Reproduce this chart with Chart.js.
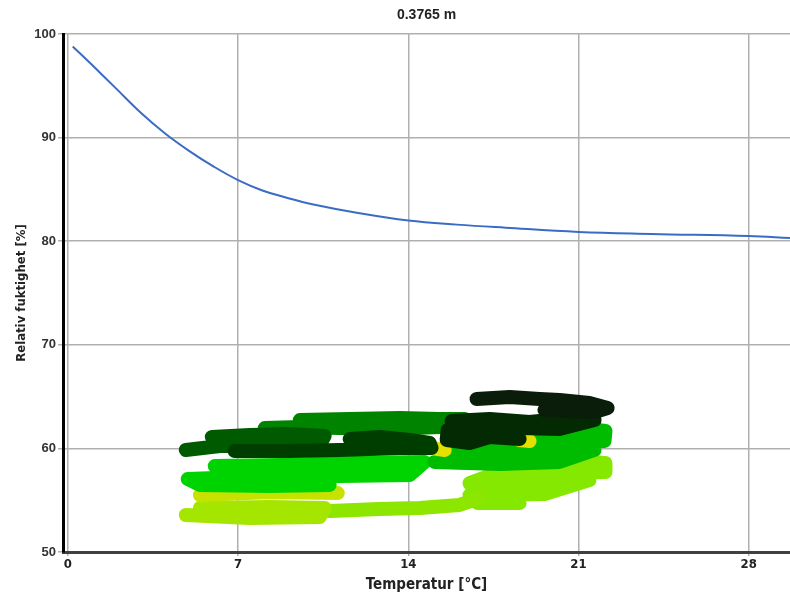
<!DOCTYPE html>
<html>
<head>
<meta charset="utf-8">
<script src="https://cdn.jsdelivr.net/npm/chart.js@4.4.1/dist/chart.umd.min.js"></script>
<style>
	html, body { margin: 0; padding: 0; background: #fff; }
	#wrap { width: 790px; height: 594px; }
</style>
</head>
<body>
<div id="wrap"><canvas id="chart"></canvas></div>
<script>
// curve
const curveTemp = [0.2, 1, 2, 3, 4, 5, 6, 7, 8, 9, 10, 12, 14, 16, 18, 21, 24, 28, 29.7];
const curveRh = [98.8, 97.0, 94.7, 92.4, 90.4, 88.7, 87.2, 85.9, 84.9, 84.2, 83.6, 82.7, 82.0, 81.6, 81.3, 80.9, 80.7, 80.5, 80.3];

// measured trails, [temp, rh]
const trailBlack = [[16.81, 64.77], [18.17, 64.96], [19.4, 64.77], [20.22, 64.67], [21.45, 64.38], [22.2, 63.9], [21.66, 63.51], [20.63, 63.61], [19.6, 63.7]];
const trailDeep = [[15.78, 62.64], [17.35, 62.84], [18.99, 62.55], [20.22, 62.84], [21.66, 62.74], [20.22, 61.87], [18.58, 61.97], [17.35, 61.87], [15.62, 61.78], [15.58, 60.81], [16.52, 60.52], [17.35, 61.1], [18.58, 60.9]];
const trailDark = [[11.59, 60.9], [12.82, 61.1], [14.06, 60.81], [14.88, 60.52], [14.96, 60.04], [13.65, 60.04], [11.18, 59.85], [9.12, 59.75], [6.86, 59.75]];
const trailForest = [[5.92, 61.1], [7.48, 61.29], [9.12, 61.39], [10.56, 61.2], [10.36, 60.33], [8.3, 60.23], [6.25, 60.23], [4.85, 59.85]];
const trailGreen = [[9.54, 62.74], [11.59, 62.84], [13.65, 62.93], [15.29, 62.84], [16.32, 62.84], [15.29, 62.06], [13.24, 61.87], [11.18, 61.97], [9.54, 62.06], [8.1, 61.97]];
const trailBright = [[20.22, 61.78], [21.45, 61.87], [22.11, 61.68], [22.07, 60.71], [20.22, 60.62], [18.58, 60.71], [15.7, 59.65], [18.17, 59.55], [20.22, 59.65], [21.66, 59.85], [20.22, 58.69], [17.76, 58.49], [15.08, 58.69]];
const trailMid = [[6.04, 58.3], [8.71, 58.4], [11.59, 58.6], [14.67, 58.69], [14.06, 57.43], [11.18, 57.33], [8.3, 57.33], [4.93, 57.04], [5.43, 56.47], [8.3, 56.37], [10.77, 56.47]];
const trailYellow = [[5.43, 55.5], [8.3, 55.79], [11.1, 55.69]];
const trailPale = [[5.43, 54.25], [8.3, 54.34], [10.56, 54.25], [10.36, 53.38], [7.48, 53.28], [4.85, 53.57]];
const trailLimeLow = [[10.77, 53.95], [12.82, 54.15], [14.47, 54.25], [16.11, 54.54], [16.93, 55.21]];
const trailLime = [[20.84, 58.78], [22.11, 58.59], [22.11, 57.72], [20.22, 57.62], [17.76, 57.72], [16.52, 56.66], [18.99, 56.76], [21.45, 56.95], [19.6, 55.6], [16.52, 55.5], [16.85, 54.73], [18.58, 54.73]];
const patchA = [[14.96, 60.04], [15.5, 59.85]];
const patchB = [[18.58, 60.81], [18.99, 60.71]];

const xTicks = [0, 7, 14, 21, 28];

// first entry is painted last (on top)
const trails = [
	{ data: trailBlack, color: '#0a1c0a' },
	{ data: trailDeep, color: '#032a03' },
	{ data: trailDark, color: '#003e00' },
	{ data: trailForest, color: '#005a00' },
	{ data: trailGreen, color: '#008400' },
	{ data: patchA, color: '#e4e000' },
	{ data: patchB, color: '#e4e000' },
	{ data: trailBright, color: '#00bc00' },
	{ data: trailMid, color: '#00d400' },
	{ data: trailYellow, color: '#c8e200' },
	{ data: trailPale, color: '#a4e600' },
	{ data: trailLimeLow, color: '#8ce600' },
	{ data: trailLime, color: '#84e800' }
];

const fontFamily = '"Liberation Sans", Arial, sans-serif';
const narrowFamily = '"DejaVu Sans Condensed", "Liberation Sans Narrow", "Liberation Sans", sans-serif';

const datasets = [{
	label: 'curve',
	data: curveTemp.map((t, i) => ({ x: t, y: curveRh[i] })),
	borderColor: '#3b6cc4',
	borderWidth: 2,
	pointRadius: 0,
	showLine: true,
	tension: 0.4,
	clip: false
}].concat(trails.map((tr, i) => ({
	label: 'trail' + i,
	data: tr.data.map(p => ({ x: p[0], y: p[1] })),
	borderColor: tr.color,
	backgroundColor: tr.color,
	borderWidth: 14,
	borderCapStyle: 'round',
	borderJoinStyle: 'round',
	pointRadius: 0,
	showLine: true,
	tension: 0
})));

const titleText = {
	id: 'titleText',
	afterDraw: chart => {
		const ctx = chart.ctx;
		ctx.save();
		ctx.fillStyle = '#222';
		ctx.font = 'bold 14px ' + fontFamily;
		ctx.textAlign = 'center';
		ctx.textBaseline = 'middle';
		ctx.fillText('0.3765 m', (chart.chartArea.left + chart.chartArea.right) / 2, 15);
		ctx.restore();
	}
};

new Chart(document.getElementById('chart'), {
	type: 'scatter',
	data: { datasets },
	plugins: [titleText],
	options: {
		responsive: true,
		maintainAspectRatio: false,
		animation: false,
		layout: { padding: { top: 34, left: 0, right: 0, bottom: 0 } },
		plugins: {
			legend: { display: false },
			tooltip: { enabled: false },
			title: { display: false }
		},
		scales: {
			x: {
				type: 'linear',
				min: -0.2,
				max: 29.7,
				afterBuildTicks: scale => { scale.ticks = xTicks.map(v => ({ value: v })); },
				afterFit: scale => { scale.height = 42; },
				border: { color: '#404040', width: 3 },
				grid: { color: '#b0b0b0', lineWidth: 1.5, tickLength: 4 },
				ticks: {
					color: '#222',
					padding: 1,
					font: { family: narrowFamily, size: 13, weight: 'bold' }
				},
				title: {
					display: true,
					text: 'Temperatur [°C]',
					color: '#222',
					padding: { top: 0, bottom: 0 },
					font: { family: narrowFamily, size: 15, weight: 'bold' }
				}
			},
			y: {
				min: 50,
				max: 100,
				afterFit: scale => { scale.width = 63; },
				border: { color: '#000', width: 3 },
				grid: { color: '#b0b0b0', lineWidth: 1.5, tickLength: 5 },
				ticks: {
					stepSize: 10,
					color: '#333',
					padding: 2,
					font: { family: fontFamily, size: 13, weight: 'bold' }
				},
				title: {
					display: true,
					text: 'Relativ fuktighet [%]',
					color: '#222',
					padding: { top: 14, bottom: 0 },
					font: { family: narrowFamily, size: 13, weight: 'bold' }
				}
			}
		}
	}
});
</script>
</body>
</html>
